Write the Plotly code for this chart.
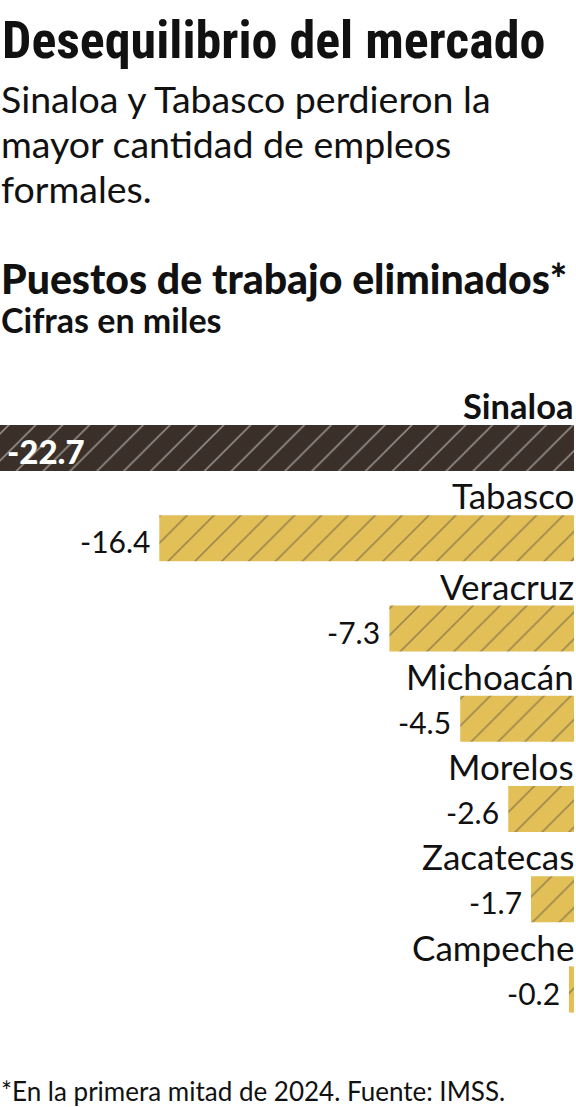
import plotly.graph_objects as go

# job losses by state, thousands (first half of 2024)
states = ["Sinaloa", "Tabasco", "Veracruz", "Michoacán", "Morelos", "Zacatecas", "Campeche"]
losses = [-22.7, -16.4, -7.3, -4.5, -2.6, -1.7, -0.2]

TITLE = "Desequilibrio del mercado"
SUBTITLE = ["Sinaloa y Tabasco perdieron la", "mayor cantidad de empleos", "formales."]
HEADING = "Puestos de trabajo eliminados*"
UNITS = "Cifras en miles"
FOOTER = "*En la primera mitad de 2024. Fuente: IMSS."

W, H = 576, 1107
TOP, BOTTOM = 380, 1035          # plot area in page pixels
DARK, DARK_LINE = "#3a3029", "#8f8780"
GOLD, GOLD_LINE = "#e3bf57", "#6e5c2f"
SANS = "Lato"
NARROW = "Roboto Condensed, DejaVu Sans Condensed, Roboto"


def py(px):
    """page pixel row -> paper y"""
    return (BOTTOM - px) / (BOTTOM - TOP)


colors = [DARK if i == 0 else GOLD for i in range(len(states))]
lines = [DARK_LINE if i == 0 else GOLD_LINE for i in range(len(states))]

fig = go.Figure(go.Bar(
    x=losses, y=states, orientation="h", width=0.51,
    marker=dict(color=colors, line=dict(width=0),
                pattern=dict(shape="/", fgcolor=lines, size=19, solidity=0.08)),
    hoverinfo="skip"))

ann = []
# headline block
ann.append(dict(text=TITLE, x=0.0, y=py(40), xanchor="left", yanchor="middle", xshift=1,
                font=dict(family=NARROW, size=52, color="#111", weight="bold")))
for i, line in enumerate(SUBTITLE):
    ann.append(dict(text=line, x=0.0, y=py(98 + 45 * i), xanchor="left", yanchor="middle",
                    font=dict(family=SANS, size=37.5, color="#111")))
ann.append(dict(text=HEADING, x=0.0, y=py(278), xanchor="left", yanchor="middle",
                font=dict(family=SANS, size=41, color="#111", weight=900)))
ann.append(dict(text=UNITS, x=0.0, y=py(319), xanchor="left", yanchor="middle",
                font=dict(family=SANS, size=34, color="#111", weight="bold")))
ann.append(dict(text=FOOTER, x=0.0, y=py(1091), xanchor="left", yanchor="middle",
                font=dict(family=SANS, size=26, color="#111")))

for i, (s, v) in enumerate(zip(states, losses)):
    ann.append(dict(text=s, xref="x", yref="y", x=0, y=s, xanchor="right", yanchor="middle",
                    yshift=43, xshift=1,
                    font=dict(family=SANS, size=34.5 if i == 0 else 35, color="#111",
                              weight="bold" if i == 0 else "normal")))
    if i == 0:
        ann.append(dict(text=f"{v}", xref="x", yref="y", x=v, y=s, xanchor="left",
                        yanchor="middle", xshift=6, yshift=-3,
                        font=dict(family=SANS, size=33, color="white", weight=900)))
    else:
        ann.append(dict(text=f"{v}", xref="x", yref="y", x=v, y=s, xanchor="right",
                        yanchor="middle", xshift=-8, yshift=-3,
                        font=dict(family=SANS, size=30, color="#111")))

for a in ann:
    a.setdefault("xref", "paper")
    a.setdefault("yref", "paper")
    a["showarrow"] = False
    a["borderpad"] = 0

fig.update_layout(
    width=W, height=H, showlegend=False,
    margin=dict(l=0, r=2, t=TOP, b=H - BOTTOM, pad=0),
    paper_bgcolor="white", plot_bgcolor="white",
    xaxis=dict(range=[-22.7, 0], visible=False, fixedrange=True),
    yaxis=dict(categoryorder="array", categoryarray=states, range=[6.504, -0.7535],
               visible=False, fixedrange=True),
    annotations=ann,
)

fig.write_html("out.html", config={"displayModeBar": False},
               post_script="document.body.style.margin='0';document.body.style.overflow='hidden';")
